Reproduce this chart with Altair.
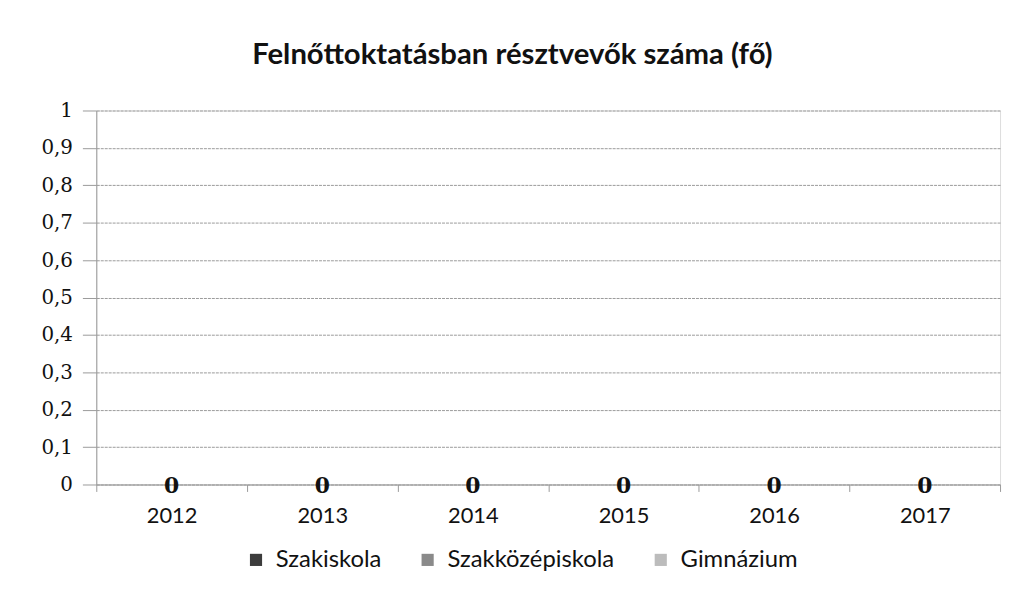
import altair as alt
import pandas as pd

years = ["2012", "2013", "2014", "2015", "2016", "2017"]
series = ["Szakiskola", "Szakközépiskola", "Gimnázium"]
szakiskola = [0, 0, 0, 0, 0, 0]
szakkozepiskola = [0, 0, 0, 0, 0, 0]
gimnazium = [0, 0, 0, 0, 0, 0]
y_ticks = [0, 0.1, 0.2, 0.3, 0.4, 0.5, 0.6, 0.7, 0.8, 0.9, 1]
colors = ["#3c3c3c", "#8a8a8a", "#bcbcbc"]

rows = []
for name, vals in zip(series, [szakiskola, szakkozepiskola, gimnazium]):
    for yr, v in zip(years, vals):
        rows.append({"year": yr, "series": name, "value": v})
df = pd.DataFrame(rows)

x_enc = alt.X(
    "year:N",
    sort=years,
    scale=alt.Scale(paddingInner=0, paddingOuter=0),
    axis=alt.Axis(
        title=None,
        labelAngle=0,
        labelFont="Lato",
        labelFontSize=22,
        labelColor="#111111",
        labelPadding=14,
        tickBand="extent",
        tickSize=7,
        tickColor="#9a9a9a",
        domainColor="#9a9a9a",
        grid=False,
    ),
)
y_enc = alt.Y(
    "value:Q",
    scale=alt.Scale(domain=[0, 1], nice=False),
    axis=alt.Axis(
        title=None,
        values=y_ticks,
        format=".1~f",
        labelExpr="replace(datum.label, '.', ',')",
        labelFont="DejaVu Serif",
        labelFontSize=20,
        labelColor="#111111",
        labelPadding=10,
        labelOverlap=False,
        tickSize=14,
        tickColor="#9a9a9a",
        domainColor="#9a9a9a",
        gridColor="#9a9a9a",
        gridDash=[3, 1],
    ),
)

base = alt.Chart(df).encode(x=x_enc, y=y_enc)

bars = base.mark_bar().encode(
    xOffset=alt.XOffset("series:N", sort=series),
    color=alt.Color(
        "series:N",
        sort=series,
        scale=alt.Scale(domain=series, range=colors),
        legend=alt.Legend(
            title=None,
            orient="none",
            direction="horizontal",
            legendX=149,
            legendY=441,
            symbolType="square",
            symbolSize=150,
            symbolStrokeWidth=0,
            labelFont="Lato",
            labelFontSize=24,
            labelColor="#111111",
            labelOffset=8,
            labelLimit=400,
            columnPadding=34,
            padding=0,
        ),
    ),
)

labels = (
    base.transform_filter(alt.datum.series == series[1])
    .mark_text(font="DejaVu Serif", fontWeight="bold", fontSize=22, baseline="middle", dy=2, color="#111111")
    .encode(text=alt.Text("value:Q", format="d"))
)

chart = (
    alt.layer(bars, labels)
    .properties(
        width=911,
        height=377,
        autosize=alt.AutoSizeParams(type="none"),
        padding={"left": 89, "top": 101, "right": 5, "bottom": 100},
        title=alt.TitleParams(
            "Felnőttoktatásban résztvevők száma (fő)",
            font="Lato",
            fontSize=29.5,
            fontWeight="bold",
            color="#111111",
            anchor="middle",
            dx=-36,
            offset=30,
        ),
    )
    .configure_view(stroke=None)
    .configure(background="white")
)

chart.save("out.html", embed_options={"renderer": "svg", "actions": False})
